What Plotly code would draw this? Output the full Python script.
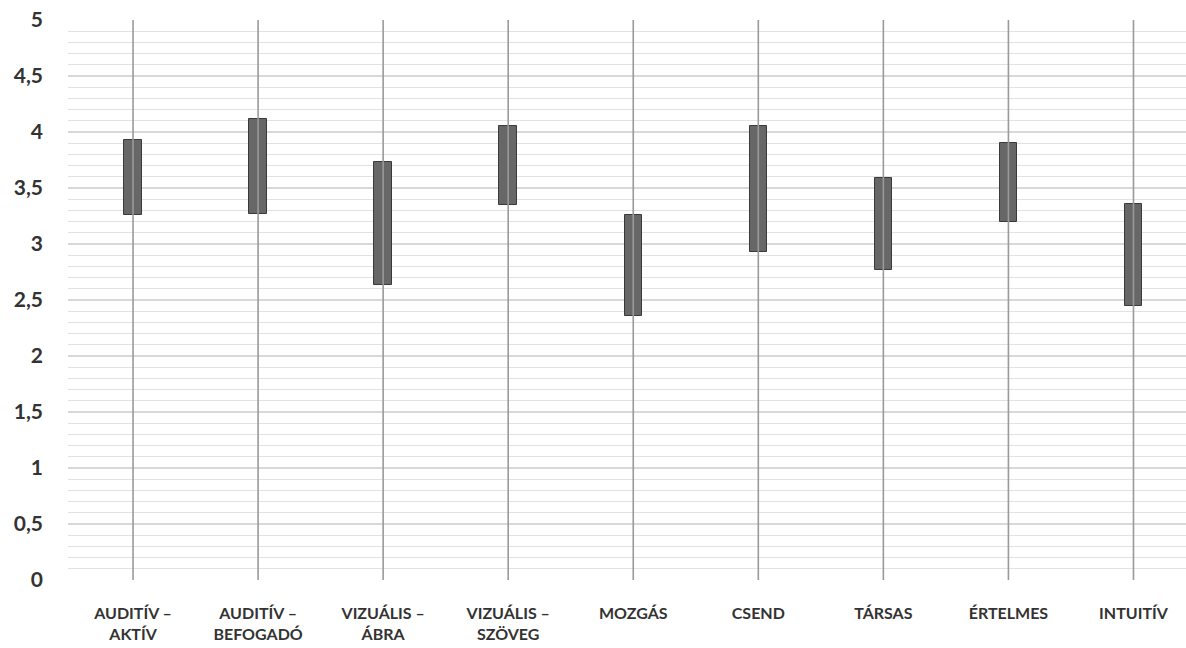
import plotly.graph_objects as go

categories = ["AUDITÍV –<br>AKTÍV", "AUDITÍV –<br>BEFOGADÓ", "VIZUÁLIS –<br>ÁBRA", "VIZUÁLIS –<br>SZÖVEG",
              "MOZGÁS", "CSEND", "TÁRSAS", "ÉRTELMES", "INTUITÍV"]
low_vals = [0, 0, 0, 0, 0, 0, 0, 0, 0]
high_vals = [5, 5, 5, 5, 5, 5, 5, 5, 5]
box_bottom = [3.26, 3.27, 2.63, 3.35, 2.36, 2.93, 2.77, 3.20, 2.45]
box_top = [3.93, 4.12, 3.73, 4.05, 3.26, 4.05, 3.59, 3.90, 3.36]

fig = go.Figure()

# vertical high-low lines
lx, ly = [], []
for c, lo, hi in zip(categories, low_vals, high_vals):
    lx += [c, c, None]
    ly += [lo, hi, None]
fig.add_trace(go.Scatter(x=lx, y=ly, mode="lines",
                         line=dict(color="#9a9a9a", width=1.6),
                         hoverinfo="skip", showlegend=False))

# boxes
fig.add_trace(go.Bar(x=categories,
                     y=[t - b for t, b in zip(box_top, box_bottom)],
                     base=box_bottom, width=0.14,
                     marker=dict(color="#676767", line=dict(color="#3a3a3a", width=1)),
                     showlegend=False))

fig.update_layout(
    width=1186, height=648,
    margin=dict(l=68, r=0, t=20, b=68),
    paper_bgcolor="white", plot_bgcolor="white",
    separators=",.",
    font=dict(family="Lato", color="#333333"),
    xaxis=dict(type="category", showgrid=False, showline=False, zeroline=False,
               automargin=False, range=[-0.52, 8.42],
               tickfont=dict(family="Lato", size=16, color="#333333", weight="bold"),
               ticks="", ticklabelstandoff=22),
    yaxis=dict(range=[0, 5], dtick=0.5, tick0=0, showline=False, zeroline=False,
               automargin=False,
               showgrid=True, gridcolor="#d8d8d8", gridwidth=1.6,
               minor=dict(dtick=0.1, showgrid=True, gridcolor="#e2e2e2", gridwidth=1.3),
               tickfont=dict(family="Lato", size=21, color="#333333", weight="bold"),
               ticks="", ticklabelstandoff=24),
    bargap=0,
)

fig.write_html("out.html", config={"displayModeBar": False},
               post_script="document.body.style.margin='0';document.body.style.overflow='hidden';")
